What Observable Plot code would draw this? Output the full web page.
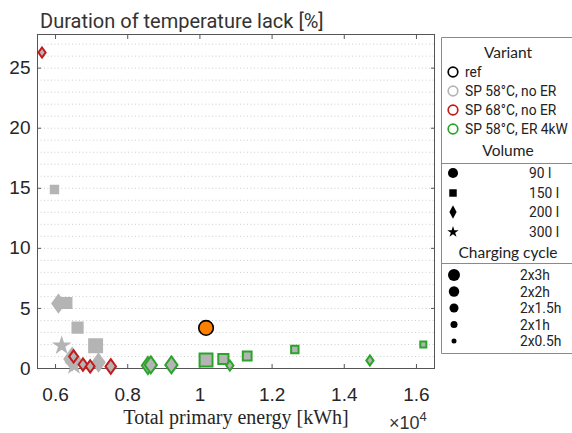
<!DOCTYPE html>
<html>
<head>
<meta charset="utf-8">
<script src="https://cdn.jsdelivr.net/npm/d3@7"></script>
<script src="https://cdn.jsdelivr.net/npm/@observablehq/plot@0.6"></script>
<style>
  body { margin: 0; background: #fff; overflow: hidden; }
  #wrap { position: relative; width: 572px; height: 433px; overflow: hidden; background: #fff; font-family: "Liberation Sans", Arial, sans-serif; }
  #title { height: 30px; box-sizing: border-box; padding: 11px 0 0 40px; font: 20px/20px Roboto, "Liberation Sans", sans-serif; color: #333; white-space: nowrap; }
  #chart { position: absolute; left: 0; top: 30px; }
  #exp { position: absolute; left: 389px; top: 409px; font: 18px/18px "Liberation Sans", Arial, sans-serif; color: #333; white-space: nowrap; }
  #exp sup { font-size: 13px; position: relative; top: -1px; }
  #legend { position: absolute; left: 441px; top: 37px; }
  g[aria-label="x-axis label"] text { font-family: "Liberation Serif", "Times New Roman", serif; font-size: 20px; }
</style>
</head>
<body>
<div id="wrap">
  <div id="title">Duration of temperature lack [%]</div>
  <div id="chart"></div>
  <div id="exp">×10<sup>4</sup></div>
</div>
<script>
// ---------- data ----------
const variants = ["ref", "SP 58°C, no ER", "SP 68°C, no ER", "SP 58°C, ER 4kW"];
const volumes = [90, 150, 200, 300];               // litres
const cycles = [3, 2, 1.5, 1, 0.5];                // hours per charge (2x...)
const xTicks = [6000, 8000, 10000, 12000, 14000, 16000];
const yTicks = [0, 5, 10, 15, 20, 25];

// one entry per marker
const pointVariant = [
  "SP 58°C, no ER", "SP 58°C, no ER", "SP 58°C, no ER", "SP 58°C, no ER", "SP 58°C, no ER",
  "SP 58°C, no ER", "SP 58°C, no ER", "SP 58°C, no ER", "SP 58°C, no ER",
  "SP 68°C, no ER", "SP 68°C, no ER", "SP 68°C, no ER", "SP 68°C, no ER", "SP 68°C, no ER",
  "SP 58°C, ER 4kW", "SP 58°C, ER 4kW", "SP 58°C, ER 4kW", "SP 58°C, ER 4kW", "SP 58°C, ER 4kW",
  "SP 58°C, ER 4kW", "SP 58°C, ER 4kW", "SP 58°C, ER 4kW", "SP 58°C, ER 4kW", "SP 58°C, ER 4kW",
  "ref"
];
const pointVolume = [
  150, 200, 150, 150, 150,
  300, 300, 200, 200,
  200, 200, 200, 200, 200,
  200, 200, 200, 150, 150,
  200, 150, 150, 200, 150,
  90
];
const pointCycle = [
  1, 2, 2, 2, 3,
  1, 1, 3, 2,
  0.5, 1, 1, 1, 1.5,
  2, 2, 2, 3, 2,
  0.5, 1.5, 1, 0.5, 0.5,
  3
];
const pointEnergy = [   // kWh
  5970, 6080, 6300, 6610, 7110,
  6170, 6510, 6460, 7190,
  5625, 6500, 6760, 6960, 7530,
  8560, 8640, 9210, 10170, 10650,
  10830, 11310, 12630, 14710, 16190,
  10170
];
const pointLack = [     // %
  14.9, 5.4, 5.45, 3.4, 1.9,
  1.9, 0.25, 0.8, 0.5,
  26.3, 1.0, 0.33, 0.17, 0.17,
  0.25, 0.3, 0.3, 0.71, 0.79,
  0.25, 1.04, 1.58, 0.67, 2.0,
  3.38
];

// ---------- styles ----------
const edgeColors = ["#000000", "#b4b4b4", "#c41a1a", "#2aa52a"];
const markerFill = "#b4b4b4";
const refFill = "#ff8000";
const diamond = {
  draw(ctx, size) {
    const k = 0.72, h = Math.sqrt(size / (2 * k)), w = h * k;
    ctx.moveTo(0, -h); ctx.lineTo(w, 0); ctx.lineTo(0, h); ctx.lineTo(-w, 0); ctx.closePath();
  }
};
const symbols = [d3.symbolCircle, d3.symbolSquare, diamond, d3.symbolStar];

const rows = pointEnergy.map((e, i) => ({
  energy: e, lack: pointLack[i], variant: pointVariant[i], volume: pointVolume[i], cycle: pointCycle[i]
}));

const chart = Plot.plot({
  width: 572,
  height: 403,
  marginLeft: 37,
  marginRight: 138,
  marginTop: 4,
  marginBottom: 65,
  style: { fontFamily: "'Liberation Sans', Arial, sans-serif", fontSize: "19px", color: "#262626", background: "transparent", overflow: "visible" },
  x: { domain: [5500, 16500], label: "Total primary energy [kWh]" },
  y: { domain: [0, 27.8] },
  color: { domain: variants, range: edgeColors },
  symbol: { domain: volumes, range: symbols },
  r: { type: "linear", domain: [0.5, 3], range: [3.4, 7.3] },
  marks: [
    Plot.gridY(d3.range(1, 28), { stroke: "#cfcfcf", strokeOpacity: 1, strokeDasharray: "1,2.5" }),
    Plot.frame({ stroke: "#555" }),
    Plot.axisY(yTicks, { anchor: "left", tickSize: 0, tickPadding: 7, fontSize: 19, label: null }),
    Plot.axisY(yTicks, { anchor: "left", tickSize: -4, tickFormat: () => "", label: null, stroke: "#555" }),
    Plot.axisY(yTicks, { anchor: "right", tickSize: -4, tickFormat: () => "", label: null, stroke: "#555" }),
    Plot.axisX(xTicks, { anchor: "bottom", tickSize: 0, tickPadding: 19, fontSize: 19, tickFormat: d => String(d / 1e4),
      label: "Total primary energy [kWh]", labelAnchor: "center", labelOffset: 55, labelArrow: "none" }),
    Plot.axisX(xTicks, { anchor: "bottom", tickSize: -4, tickFormat: () => "", label: null, stroke: "#555" }),
    Plot.axisX(xTicks, { anchor: "top", tickSize: -4, tickFormat: () => "", label: null, stroke: "#555" }),
    Plot.dot(rows.filter(d => d.variant !== "ref"), {
      x: "energy", y: "lack", symbol: "volume", r: "cycle", stroke: "variant", fill: markerFill, strokeWidth: 2, sort: null
    }),
    Plot.dot(rows.filter(d => d.variant === "ref"), {
      x: "energy", y: "lack", symbol: "volume", r: "cycle", stroke: "variant", fill: refFill, strokeWidth: 1.6
    })
  ]
});
document.getElementById("chart").appendChild(chart);

// ---------- legend ----------
const lg = d3.select("#wrap").append("svg").attr("id", "legend").attr("width", 131).attr("height", 318);
lg.append("path").attr("d", "M131,0.5H0.5V316.5H131").attr("fill", "none").attr("stroke", "#8a8a8a");
const header = (t, y) => lg.append("text").attr("x", 67).attr("y", y).attr("text-anchor", "middle")
  .attr("dominant-baseline", "central").attr("font-family", "Lato, 'Open Sans', sans-serif").attr("font-size", 15.5)
  .attr("fill", "#222").text(t);
const hline = y => lg.append("path").attr("d", `M0,${y}.5H131`).attr("stroke", "#8a8a8a");
const label = (t, x, y) => lg.append("text").attr("x", x).attr("y", y).attr("dominant-baseline", "central")
  .attr("font-family", "Roboto, 'Liberation Sans', sans-serif").attr("font-size", 13.8).attr("fill", "#222").text(t);

header("Variant", 15);
const variantY = [35, 54, 73, 92];
variants.forEach((v, i) => {
  lg.append("circle").attr("cx", 12).attr("cy", variantY[i]).attr("r", 4.8)
    .attr("fill", "none").attr("stroke", edgeColors[i]).attr("stroke-width", 1.7);
  label(v, 24, variantY[i]);
});
header("Volume", 113);
hline(126);
const volumeY = [136, 156, 175, 195];
const volumeSize = [80, 56, 60, 40];
volumes.forEach((v, i) => {
  lg.append("path").attr("transform", `translate(12,${volumeY[i]})`)
    .attr("d", d3.symbol(i === 2 ? { draw(ctx, s) { const h = 6.8, w = 3.6; ctx.moveTo(0, -h); ctx.lineTo(w, 0); ctx.lineTo(0, h); ctx.lineTo(-w, 0); ctx.closePath(); } } : symbols[i], volumeSize[i])())
    .attr("fill", "#000");
  label(`${v} l`, 88, volumeY[i]);
});
header("Charging cycle", 215);
hline(226);
const cycleY = [238, 254.5, 271, 287.5, 304];
const cycleR = [6, 5.2, 4.5, 3.5, 2.5];
cycles.forEach((c, i) => {
  lg.append("circle").attr("cx", 13).attr("cy", cycleY[i]).attr("r", cycleR[i]).attr("fill", "#000");
  label(`2x${c}h`, 79, cycleY[i]);
});
</script>
</body>
</html>
